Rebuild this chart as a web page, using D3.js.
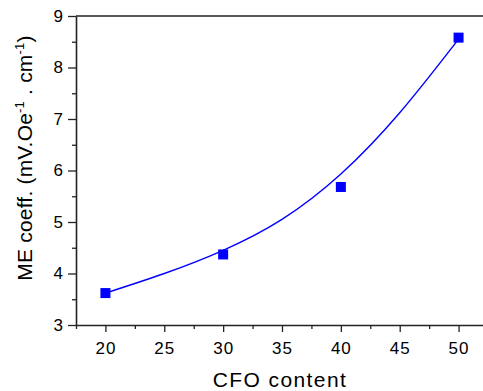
<!DOCTYPE html>
<html>
<head>
<meta charset="utf-8">
<script src="https://cdn.jsdelivr.net/npm/d3@7"></script>
<style>
  body { margin: 0; background: #fff; }
  text { font-family: "Liberation Sans", Arial, sans-serif; fill: #000; }
</style>
</head>
<body>
<script>
// measured points
const cfo = [20, 30, 40, 50];
const meCoeff = [3.62, 4.37, 5.68, 8.58];

// fitted curve
const fitX = [20, 25, 30, 35, 40, 45, 50];
const fitY = [3.62, 4.0, 4.45, 5.05, 5.93, 7.12, 8.55];

const xTicks = [20, 25, 30, 35, 40, 45, 50];
const yTicks = [3, 4, 5, 6, 7, 8, 9];

const w = 483, h = 391;
const margin = {top: 16, right: -5, bottom: 66, left: 76};

const svg = d3.select("body").append("svg")
    .attr("width", w)
    .attr("height", h);

const x = d3.scaleLinear()
    .domain([17.5, 52.5])
    .range([margin.left, w - margin.right]);

const y = d3.scaleLinear()
    .domain([3, 9])
    .range([h - margin.bottom, margin.top]);

// minor ticks first
svg.append("g")
    .attr("transform", `translate(0,${h - margin.bottom})`)
    .call(d3.axisBottom(x).tickValues(d3.range(17.5, 53, 5)).tickSize(4).tickFormat(""))
    .call(g => g.select(".domain").remove())
    .call(g => g.selectAll("line").attr("stroke-width", 1.3).attr("stroke", "#222"));

svg.append("g")
    .attr("transform", `translate(${margin.left},0)`)
    .call(d3.axisLeft(y).tickValues(d3.range(3.5, 9, 1)).tickSize(4).tickFormat(""))
    .call(g => g.select(".domain").remove())
    .call(g => g.selectAll("line").attr("stroke-width", 1.3).attr("stroke", "#222"));

// major axes
svg.append("g")
    .attr("transform", `translate(0,${h - margin.bottom})`)
    .call(d3.axisBottom(x).tickValues(xTicks).tickSize(7).tickSizeOuter(0).tickPadding(10).tickFormat(d3.format("d")))
    .call(g => g.select(".domain").attr("stroke-width", 1.6).attr("stroke", "#222"))
    .call(g => g.selectAll("line").attr("stroke-width", 1.3).attr("stroke", "#222"))
    .call(g => g.selectAll("text").attr("font-size", 17).attr("letter-spacing", 1));

svg.append("g")
    .attr("transform", `translate(${margin.left},0)`)
    .call(d3.axisLeft(y).tickValues(yTicks).tickSize(8).tickSizeOuter(0).tickPadding(5).tickFormat(d3.format("d")))
    .call(g => g.select(".domain").attr("stroke-width", 1.6).attr("stroke", "#222"))
    .call(g => g.selectAll("line").attr("stroke-width", 1.3).attr("stroke", "#222"))
    .call(g => g.selectAll("text").attr("font-size", 17));

// top frame line
svg.append("line")
    .attr("x1", x(17.5)).attr("x2", x(52.5))
    .attr("y1", y(9)).attr("y2", y(9))
    .attr("stroke", "#222")
    .attr("stroke-width", 1.6);

// fit curve
const fit = fitX.map((d, i) => [d, fitY[i]]);
svg.append("path")
    .datum(fit)
    .attr("fill", "none")
    .attr("stroke", "#0000ff")
    .attr("stroke-width", 1.4)
    .attr("d", d3.line().x(d => x(d[0])).y(d => y(d[1])).curve(d3.curveNatural));

// markers
const s = 10;
svg.append("g")
    .attr("fill", "#0000ff")
    .selectAll("rect")
    .data(cfo)
    .join("rect")
    .attr("x", d => x(d) - s / 2)
    .attr("y", (d, i) => y(meCoeff[i]) - s / 2)
    .attr("width", s)
    .attr("height", s);

// axis titles
svg.append("text")
    .attr("x", 280)
    .attr("y", 387)
    .attr("text-anchor", "middle")
    .attr("font-size", 21)
    .attr("letter-spacing", 1.4)
    .text("CFO content");

const yt = svg.append("text")
    .attr("transform", "translate(32,158) rotate(-90)")
    .attr("text-anchor", "middle")
    .attr("font-size", 21)
    .attr("letter-spacing", 0.2);
yt.append("tspan").text("ME coeff. (mV.Oe");
yt.append("tspan").attr("dy", -8).attr("font-size", 13).text("-1");
yt.append("tspan").attr("dy", 8).text(" . cm");
yt.append("tspan").attr("dy", -8).attr("font-size", 13).text("-1");
yt.append("tspan").attr("dy", 8).text(")");
</script>
</body>
</html>
